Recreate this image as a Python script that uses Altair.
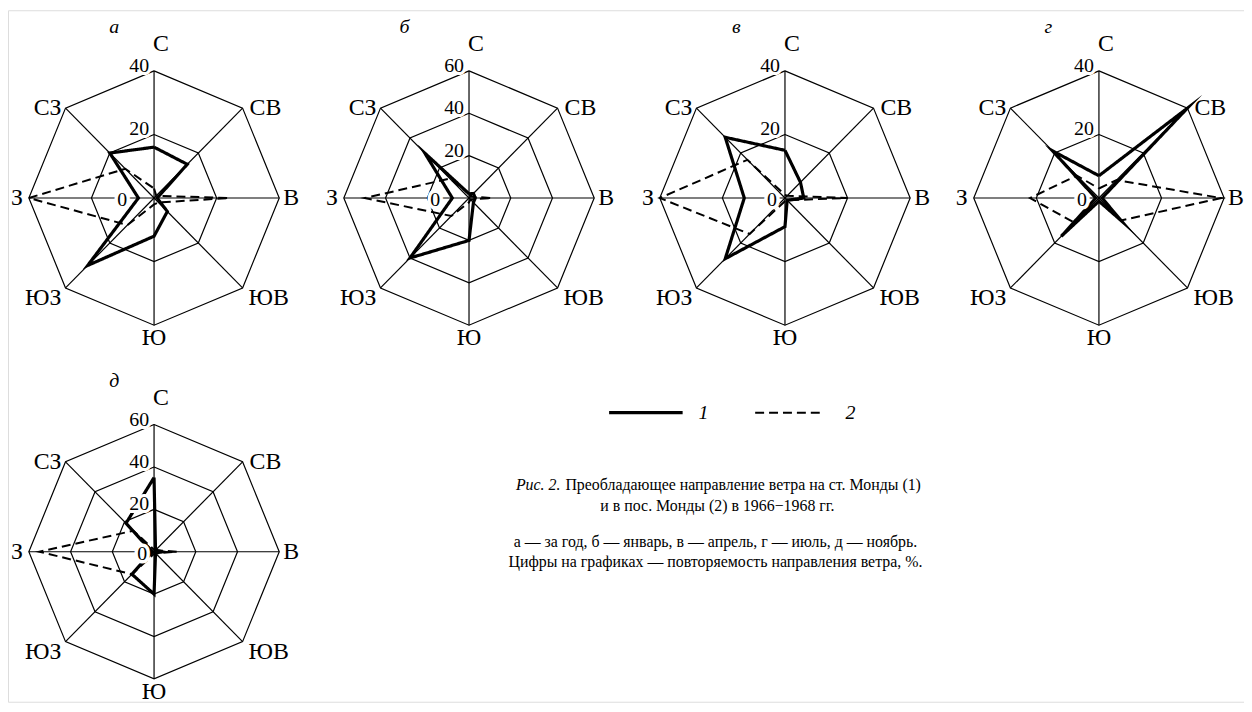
import altair as alt
import pandas as pd

# ---------------- data ----------------
directions = ["С", "СВ", "В", "ЮВ", "Ю", "ЮЗ", "З", "СЗ"]
panel_letters = ["а", "б", "в", "г", "д"]
panel_max = [40, 60, 40, 40, 60]
series_labels = ["1", "2"]

# 1 - ст. Монды, 2 - пос. Монды ; order С, СВ, В, ЮВ, Ю, ЮЗ, З, СЗ (%)
station_a = [16, 15, 1, 6, 12, 30, 5, 20]
settle_a = [3, 1, 24, 2, 2, 12, 40, 13]
station_b = [2, 3, 3, 3, 20, 40, 8, 30]
settle_b = [2, 1, 11, 1, 2, 12, 50, 13]
station_v = [15, 7, 6, 1, 9, 27, 13, 27]
settle_v = [1, 1, 20, 1, 1, 16, 40, 17]
station_g = [7, 40, 1, 10, 1, 17, 1, 21]
settle_g = [3, 8, 39, 10, 1, 11, 22, 10]
station_d = [35, 1, 4, 1, 20, 15, 1, 19]
settle_d = [1, 1, 11, 1, 1, 15, 55, 14]

station = [station_a, station_b, station_v, station_g, station_d]
settle = [settle_a, settle_b, settle_v, settle_g, settle_d]

caption_head = "Рис. 2."
caption_1 = "Преобладающее направление ветра на ст. Монды (1)"
caption_2 = "и в пос. Монды (2) в 1966−1968 гг."
caption_3 = "а — за год, б — январь, в — апрель, г — июль, д — ноябрь."
caption_4 = "Цифры на графиках — повторяемость направления ветра, %."

# ---------------- layout (page pixels) ----------------
W, H = 1244, 696
center_x = [155, 472, 790, 1106, 155]
center_y = [197, 197, 197, 197, 553]
letter_dx = [-40, -65, -49, -51, -40]
zero_dx = [-32, -34, -13, -17, -12]
RX, RY = 126, 128
dir_dx = [7, 7, 4, 6, 0, -4, -6, -4]
dir_dy = [-27, 0, 0, 10, 13, 10, 0, 0]
dir_align = ["center", "left", "left", "left", "center", "right", "right", "right"]
SERIF = "Liberation Serif"

XS = alt.Scale(domain=[8, 8 + W], nice=False, zero=False)
YS = alt.Scale(domain=[8, 8 + H], nice=False, zero=False, reverse=True)

PX = f"datum.cx + {RX} * sin(datum.k * PI / 4) * datum.value / datum.vmax"
PY = f"datum.cy - {RY} * cos(datum.k * PI / 4) * datum.value / datum.vmax"

# ---------------- tables ----------------
ser_rows, ring_rows, spoke_rows, dir_rows, tick_rows, zero_rows, let_rows = [], [], [], [], [], [], []
for p in range(5):
    cx, cy, vm = center_x[p], center_y[p], panel_max[p]
    base = dict(panel=panel_letters[p], cx=cx, cy=cy, vmax=vm)
    for s, vals in enumerate([station[p], settle[p]]):
        for k in range(9):
            ser_rows.append(dict(base, series=series_labels[s], key=f"{p}-{s}", k=k, value=vals[k % 8]))
    rings = list(range(20, vm + 1, 20))
    for r in rings:
        for k in range(9):
            ring_rows.append(dict(base, key=f"{p}-{r}", k=k, value=r))
        tick_rows.append(dict(base, k=0, value=r, text=str(r)))
    for k in range(8):
        spoke_rows.append(dict(base, k=k, value=vm))
        dir_rows.append(dict(base, k=k, value=vm, text=directions[k],
                             ddx=dir_dx[k], ddy=dir_dy[k], al=dir_align[k]))
    zero_rows.append(dict(base, text="0", zx=cx + zero_dx[p]))
    let_rows.append(dict(text=panel_letters[p], lx=cx + letter_dx[p], ly=cy - 172))

ser_df = pd.DataFrame(ser_rows)
ring_df = pd.DataFrame(ring_rows)
spoke_df = pd.DataFrame(spoke_rows)
dir_df = pd.DataFrame(dir_rows)
tick_df = pd.DataFrame(tick_rows)
zero_df = pd.DataFrame(zero_rows)
let_df = pd.DataFrame(let_rows)

dash_scale = alt.Scale(domain=series_labels, range=[[1, 0], [9, 5]])
width_scale = alt.Scale(domain=series_labels, range=[3.2, 2.0])

# ---------------- layers ----------------
rings = alt.Chart(ring_df).transform_calculate(px=PX, py=PY).mark_line(
    color="black", strokeWidth=1.2, strokeJoin="miter"
).encode(
    x=alt.X("px:Q", scale=XS, axis=None),
    y=alt.Y("py:Q", scale=YS, axis=None),
    detail="key:N", order="k:Q",
)

spokes = alt.Chart(spoke_df).transform_calculate(px=PX, py=PY).mark_rule(
    color="black", strokeWidth=1.2
).encode(
    x=alt.X("cx:Q", scale=XS, axis=None), y=alt.Y("cy:Q", scale=YS, axis=None),
    x2="px:Q", y2="py:Q",
)

lines = alt.Chart(ser_df).transform_calculate(px=PX, py=PY).mark_line(
    color="black", strokeJoin="miter", strokeMiterLimit=20
).encode(
    x=alt.X("px:Q", scale=XS, axis=None),
    y=alt.Y("py:Q", scale=YS, axis=None),
    detail="key:N", order="k:Q",
    strokeDash=alt.StrokeDash("series:N", scale=dash_scale, legend=None),
    strokeWidth=alt.StrokeWidth("series:N", scale=width_scale, legend=None),
)

def dir_layer(al):
    return alt.Chart(dir_df).transform_filter(f"datum.al == '{al}'").transform_calculate(
        px=PX, py=PY
    ).transform_calculate(lx="datum.px + datum.ddx", ly="datum.py + datum.ddy").mark_text(
        font=SERIF, fontSize=24, align=al, baseline="middle", color="black"
    ).encode(
        x=alt.X("lx:Q", scale=XS, axis=None), y=alt.Y("ly:Q", scale=YS, axis=None), text="text:N"
    )

dir_labels = [dir_layer(a) for a in ["left", "center", "right"]]

def tick_layer(halo):
    props = dict(font=SERIF, fontSize=20, align="right", baseline="alphabetic")
    if halo:
        props.update(color="white", stroke="white", strokeWidth=6)
    else:
        props.update(color="black")
    return alt.Chart(tick_df).transform_calculate(px=PX, py=PY).transform_calculate(
        lx="datum.cx - 5", ly="datum.py + 1"
    ).mark_text(**props).encode(
        x=alt.X("lx:Q", scale=XS, axis=None), y=alt.Y("ly:Q", scale=YS, axis=None), text="text:N"
    )

def zero_layer(halo):
    props = dict(font=SERIF, fontSize=20, align="center", baseline="middle", dy=2)
    if halo:
        props.update(color="white", stroke="white", strokeWidth=7)
    else:
        props.update(color="black")
    return alt.Chart(zero_df).mark_text(**props).encode(
        x=alt.X("zx:Q", scale=XS, axis=None), y=alt.Y("cy:Q", scale=YS, axis=None), text="text:N"
    )

letters = alt.Chart(let_df).mark_text(
    font=SERIF, fontSize=20, fontStyle="italic", align="center", baseline="middle", color="black"
).encode(
    x=alt.X("lx:Q", scale=XS, axis=None), y=alt.Y("ly:Q", scale=YS, axis=None), text="text:N"
)

# ---------------- legend ----------------
leg_df = pd.DataFrame(dict(series=series_labels, x0=[613, 760], x1=[687, 826], y=[413, 413],
                           tx=[708, 856]))
leg_lines = alt.Chart(leg_df).mark_rule(color="black").encode(
    x=alt.X("x0:Q", scale=XS, axis=None), x2="x1:Q",
    y=alt.Y("y:Q", scale=YS, axis=None),
    strokeDash=alt.StrokeDash("series:N", scale=dash_scale, legend=None),
    strokeWidth=alt.StrokeWidth("series:N", scale=width_scale, legend=None),
)
leg_text = alt.Chart(leg_df).mark_text(
    font=SERIF, fontSize=20, fontStyle="italic", align="center", baseline="middle", color="black"
).encode(
    x=alt.X("tx:Q", scale=XS, axis=None), y=alt.Y("y:Q", scale=YS, axis=None), text="series:N"
)

# ---------------- caption ----------------
cap_it = pd.DataFrame(dict(text=[caption_head], x=[564], y=[486]))
cap_l = pd.DataFrame(dict(text=[caption_1], x=[569], y=[486]))
cap_c = pd.DataFrame(dict(text=[caption_2, caption_3, caption_4], x=[722, 720, 720], y=[507, 543, 563]))

cap_head = alt.Chart(cap_it).mark_text(
    font=SERIF, fontSize=16, fontStyle="italic", align="right", baseline="middle", color="black"
).encode(x=alt.X("x:Q", scale=XS, axis=None), y=alt.Y("y:Q", scale=YS, axis=None), text="text:N")
cap_line1 = alt.Chart(cap_l).mark_text(
    font=SERIF, fontSize=16, align="left", baseline="middle", color="black"
).encode(x=alt.X("x:Q", scale=XS, axis=None), y=alt.Y("y:Q", scale=YS, axis=None), text="text:N")
cap_rest = alt.Chart(cap_c).mark_text(
    font=SERIF, fontSize=16, align="center", baseline="middle", color="black"
).encode(x=alt.X("x:Q", scale=XS, axis=None), y=alt.Y("y:Q", scale=YS, axis=None), text="text:N")

chart = alt.layer(
    rings, spokes, lines,
    tick_layer(True), zero_layer(True), tick_layer(False), zero_layer(False),
    *dir_labels, letters, leg_lines, leg_text, cap_head, cap_line1, cap_rest,
).properties(
    width=W, height=H, padding=0, autosize=alt.AutoSizeParams(type="none")
).configure_view(stroke=None).configure(background="white")

chart.save("out.html", embed_options={"renderer": "svg", "actions": False})
